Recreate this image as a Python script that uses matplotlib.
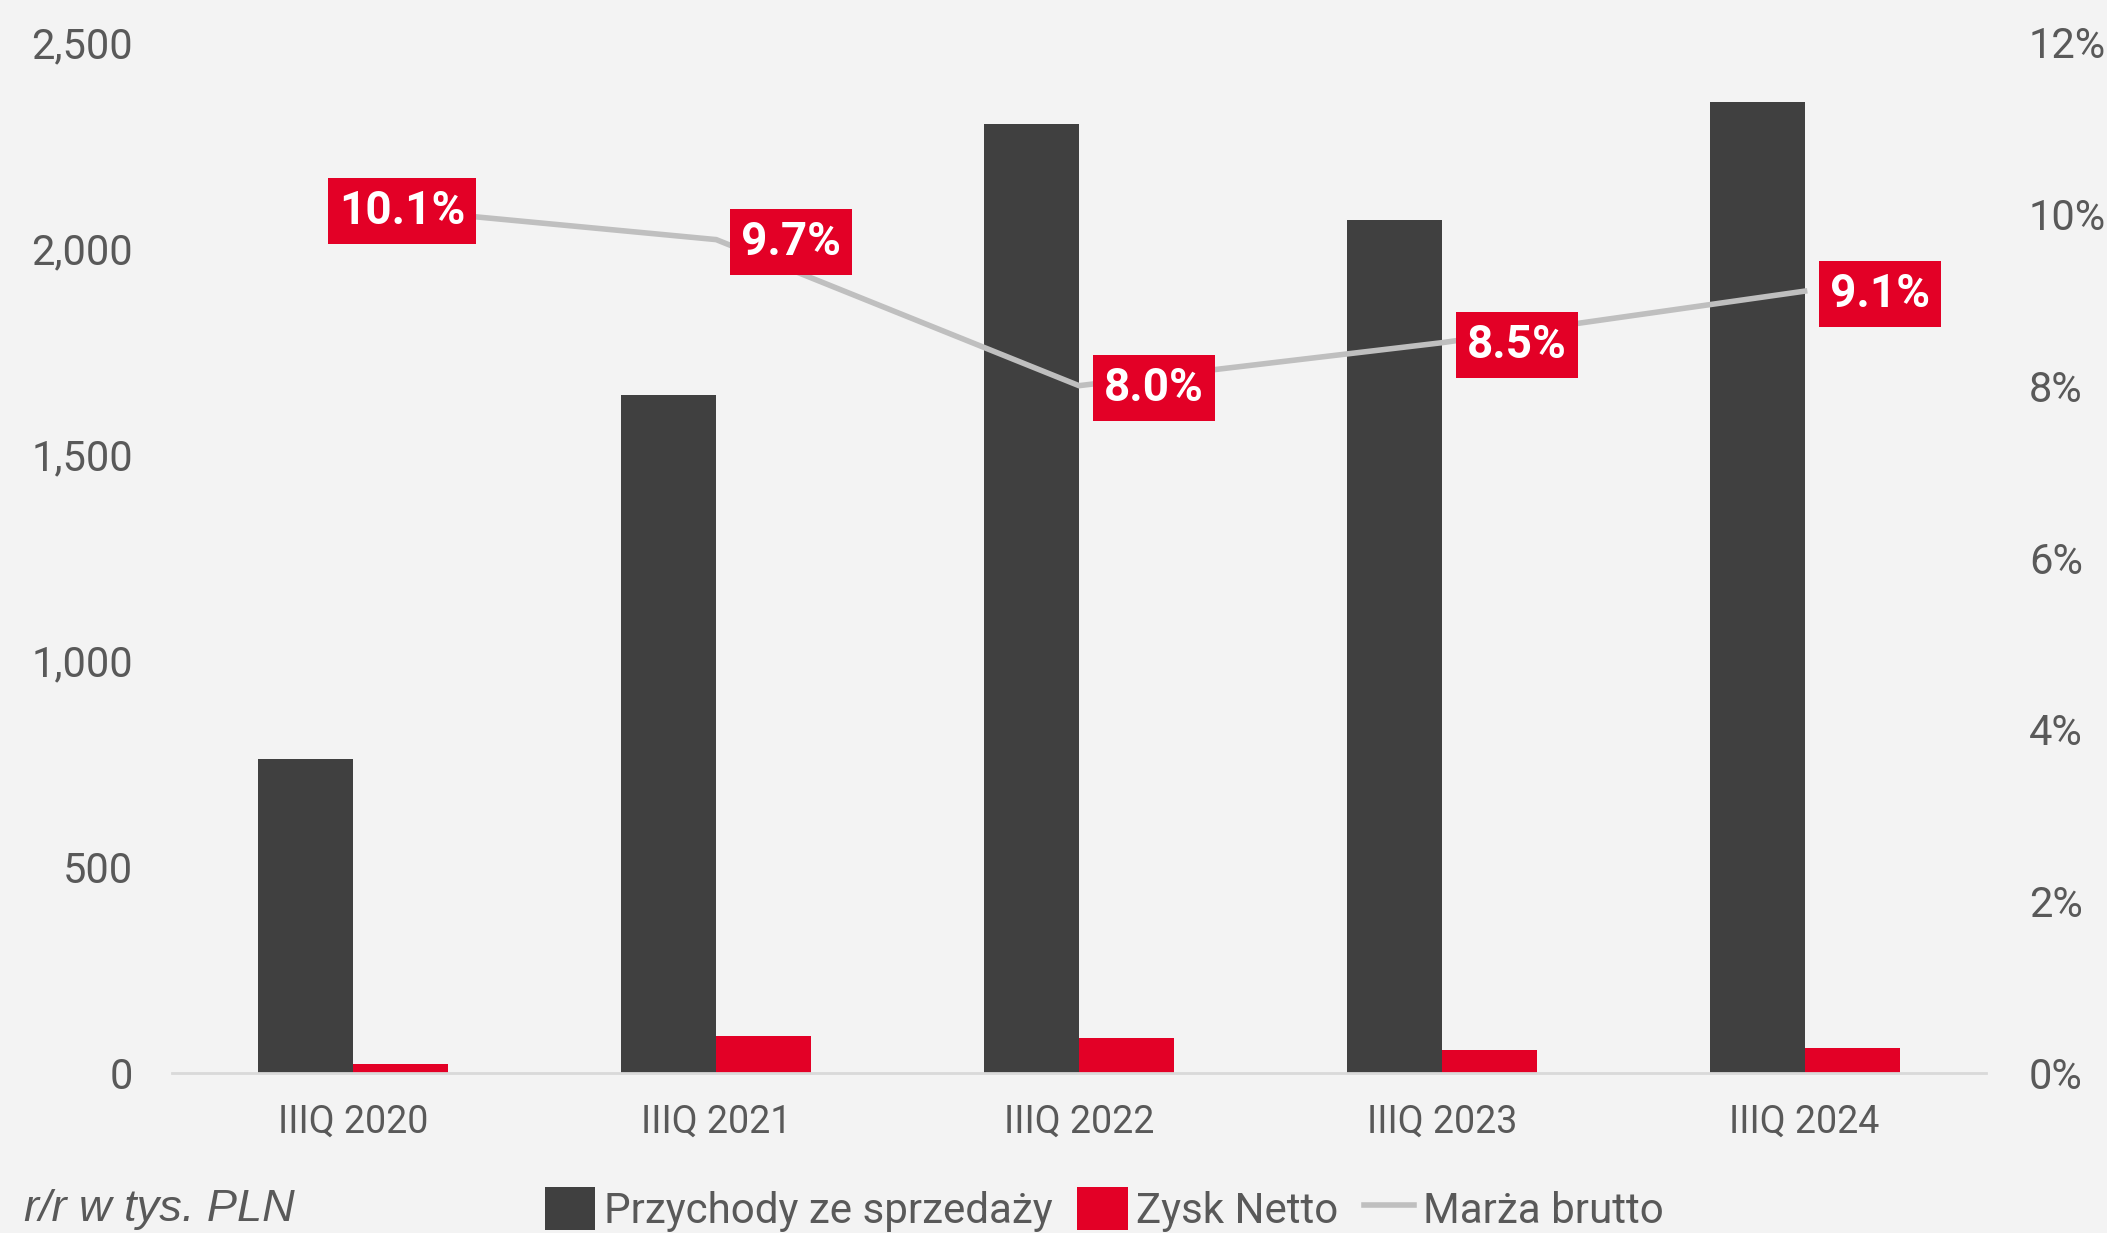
import matplotlib
matplotlib.use("Agg")
import matplotlib.pyplot as plt
from matplotlib.patches import Patch
from matplotlib.lines import Line2D
from matplotlib.ticker import FuncFormatter, MultipleLocator

categories = ["IIIQ 2020", "IIIQ 2021", "IIIQ 2022", "IIIQ 2023", "IIIQ 2024"]
revenue = [761, 1645, 2300, 2068, 2354]
net_profit = [21, 89, 84, 55, 61]
gross_margin = [0.101, 0.097, 0.080, 0.085, 0.091]
margin_labels = ["10.1%", "9.7%", "8.0%", "8.5%", "9.1%"]
label_offsets = [(35, -4), (54, -2), (54, -2), (54, -2), (54, -2)]

BG = "#F3F3F3"
DARK = "#404040"
RED = "#E30026"
LINE = "#BFBFBF"
TXT = "#595959"

W, H = 2107, 1233
fig = plt.figure(figsize=(W / 100, H / 100), dpi=100, facecolor=BG)
ax = fig.add_axes([172 / W, 1 - 1073 / H, (1986 - 172) / W, (1073 - 42) / H])
ax.set_facecolor(BG)

x = list(range(len(categories)))
bw = 0.262
ax.bar([i - bw / 2 for i in x], revenue, width=bw, color=DARK, zorder=2)
ax.bar([i + bw / 2 for i in x], net_profit, width=bw, color=RED, zorder=2)
ax.set_xlim(-0.5, len(categories) - 0.5)
ax.set_ylim(0, 2500)
ax.yaxis.set_major_locator(MultipleLocator(500))
ax.yaxis.set_major_formatter(FuncFormatter(lambda v, p: f"{int(v):,}"))
ax.set_xticks(x)
ax.set_xticklabels(categories)
for s in ["top", "right", "left"]:
    ax.spines[s].set_visible(False)
ax.spines["bottom"].set_color("#D9D9D9")
ax.spines["bottom"].set_linewidth(2)
ax.tick_params(axis="y", length=0, pad=28, labelsize=30, labelcolor=TXT)
ax.tick_params(axis="x", length=0, pad=22, labelsize=27, labelcolor=TXT)
for t in ax.get_xticklabels() + ax.get_yticklabels():
    t.set_fontfamily("Roboto")

ax2 = ax.twinx()
ax2.set_ylim(0, 0.12)
ax2.yaxis.set_major_locator(MultipleLocator(0.02))
ax2.yaxis.set_major_formatter(FuncFormatter(lambda v, p: f"{v*100:.0f}%"))
for s in ["top", "right", "left", "bottom"]:
    ax2.spines[s].set_visible(False)
ax2.tick_params(axis="y", length=0, pad=31, labelsize=30, labelcolor=TXT)
for t in ax2.get_yticklabels():
    t.set_fontfamily("Roboto")
ax2.plot(x, gross_margin, color=LINE, lw=4, zorder=3, solid_joinstyle="miter")
for i, (v, lab, off) in enumerate(zip(gross_margin, margin_labels, label_offsets)):
    ax2.annotate(lab, xy=(i, v), xytext=off, textcoords="offset points",
                 ha="center", va="center", fontsize=33, fontweight="bold",
                 fontfamily="Roboto", color="white", zorder=5,
                 bbox=dict(boxstyle="square,pad=0.24", fc=RED, ec="none"))

handles = [Patch(facecolor=DARK, edgecolor="none"),
           Patch(facecolor=RED, edgecolor="none"),
           Line2D([0], [0], color=LINE, lw=4)]
labels = ["Przychody ze sprzedaży", "Zysk Netto", "Marża brutto"]
fig.legend(handles, labels, loc="center", bbox_to_anchor=(0.524, 0.019),
           ncol=3, frameon=False, prop={"family": "Roboto", "size": 30.3},
           labelcolor=TXT, handlelength=1.2, handleheight=1.2,
           handletextpad=0.2, columnspacing=0.6, borderpad=0)

fig.text(24 / W, 1 - 1209 / H, "r/r w tys. PLN", fontsize=32.5, style="italic",
         family="Liberation Sans", color=TXT, ha="left", va="center")

fig.savefig("out.png", dpi=100, facecolor=BG)
